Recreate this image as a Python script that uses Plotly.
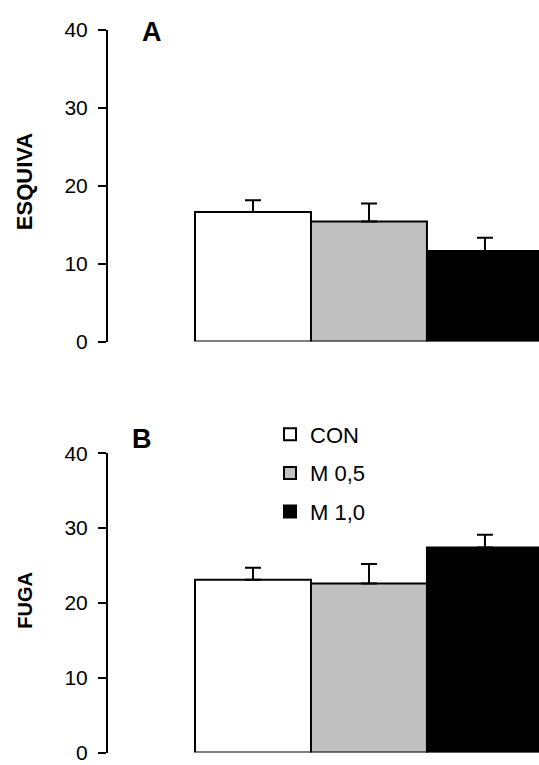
import plotly.graph_objects as go

# Group labels and per-group values (mean and upper SEM) for each behaviour
groups = ["CON", "M 0,5", "M 1,0"]
esquiva = [16.6, 15.4, 11.6]
esquiva_err = [1.5, 2.3, 1.7]
fuga = [23.1, 22.6, 27.4]
fuga_err = [1.6, 2.6, 1.7]
y_ticks = [0, 10, 20, 30, 40]

fills = ["#FFFFFF", "#C0C0C0", "#000000"]

W, H = 539, 765
FONT = "Liberation Sans, Arial, sans-serif"

fig = go.Figure()

for panel, (vals, errs) in enumerate([(esquiva, esquiva_err), (fuga, fuga_err)]):
    xa = "x" if panel == 0 else "x2"
    ya = "y" if panel == 0 else "y2"
    for i, g in enumerate(groups):
        fig.add_trace(go.Bar(
            x=[i], y=[vals[i]], width=1,
            name=g, legendgroup=g, showlegend=(panel == 1),
            marker=dict(color=fills[i], line=dict(color="black", width=2)),
            error_y=dict(type="data", array=[errs[i]], arrayminus=[0],
                         symmetric=False, color="black", thickness=2, width=8),
            xaxis=xa, yaxis=ya,
        ))

x_left = 108 / W
xrange = [-1.25, 2.466]
yaxis_common = dict(
    range=[0, 40], tickvals=y_ticks, ticks="outside", ticklen=8, tickwidth=2,
    tickcolor="black", showline=True, linecolor="black", linewidth=2,
    showgrid=False, zeroline=False, tickfont=dict(family=FONT, size=21, color="black"),
    ticklabelstandoff=6, ticklabeloverflow="allow", fixedrange=True, automargin=False,
)

fig.update_layout(
    width=W, height=H,
    margin=dict(l=0, r=0, t=0, b=0, autoexpand=False),
    paper_bgcolor="white", plot_bgcolor="white",
    barmode="overlay",
    xaxis=dict(domain=[x_left, 1], range=xrange, visible=False, anchor="y", automargin=False),
    xaxis2=dict(domain=[x_left, 1], range=xrange, visible=False, anchor="y2", automargin=False),
    yaxis=dict(domain=[1 - 341.5 / H, 1 - 29.5 / H], anchor="x", **yaxis_common),
    yaxis2=dict(domain=[1 - 752.5 / H, 1 - 453.3 / H], anchor="x2", **yaxis_common),
    legend=dict(x=270 / W, y=1 - 413.5 / H, xanchor="left", yanchor="top",
                font=dict(family=FONT, size=22, color="black"),
                tracegroupgap=7, bgcolor="rgba(0,0,0,0)", traceorder="grouped"),
    showlegend=True,
)

# Panel letters and rotated axis titles
label_font = dict(family=FONT, color="black")
for text, px, py, size, angle in [
    ("<b>A</b>", 152, 31.7, 27, 0),
    ("<b>B</b>", 142, 438.7, 27, 0),
    ("<b>ESQUIVA</b>", 24.7, 181.5, 22, -90),
    ("<b>FUGA</b>", 24.7, 600, 20, -90),
]:
    fig.add_annotation(text=text, x=px / W, y=1 - py / H, xref="paper", yref="paper",
                       xanchor="center", yanchor="middle", showarrow=False,
                       textangle=angle, font=dict(size=size, **label_font))

fig.write_html("out.html")
